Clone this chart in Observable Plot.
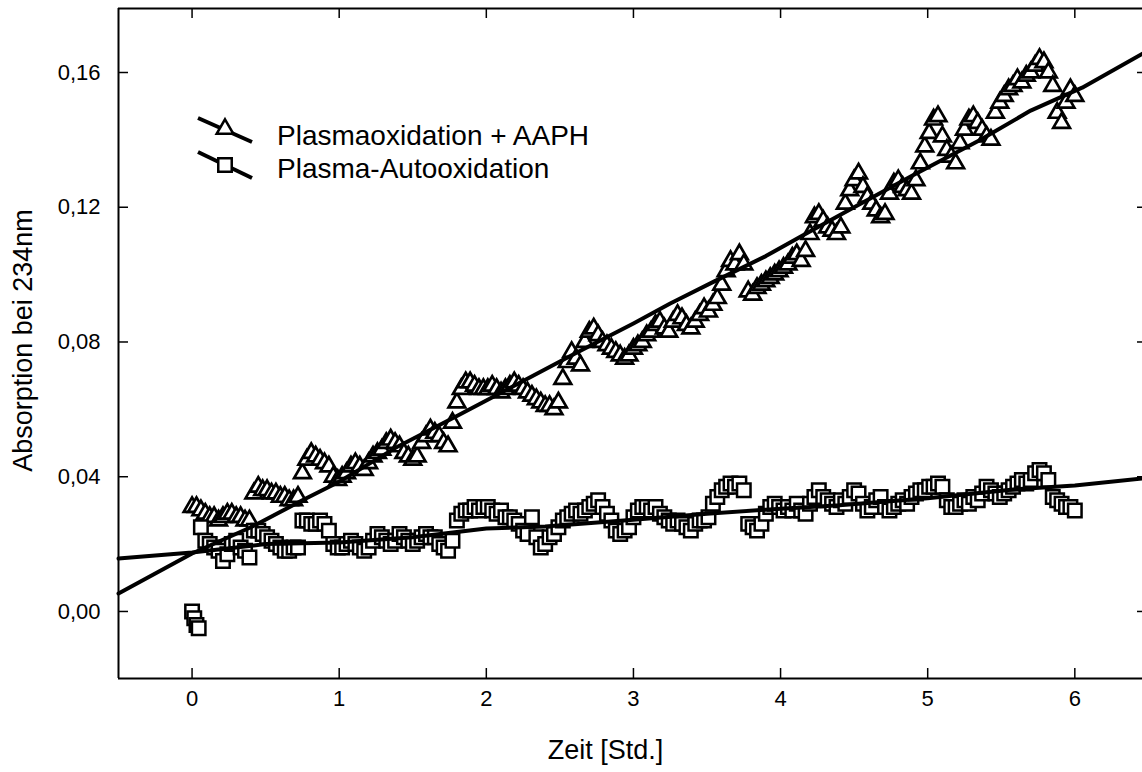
<!DOCTYPE html>
<html><head><meta charset="utf-8">
<script src="https://cdn.jsdelivr.net/npm/d3@7"></script>
<script src="https://cdn.jsdelivr.net/npm/@observablehq/plot@0.6"></script>
<style>
html,body{margin:0;padding:0;background:#fff;overflow:hidden}
#chart{width:1142px;height:772px}
</style></head><body><div id="chart"></div>
<script>
// ---- data ----
const serien = ["Plasmaoxidation + AAPH", "Plasma-Autooxidation"];
const xTitel = "Zeit [Std.]";
const yTitel = "Absorption bei 234nm";
const xTicks = [0, 1, 2, 3, 4, 5, 6];
const yTicks = [0, 0.04, 0.08, 0.12, 0.16];

const zeit = [
0,0.03,0.06,0.09,0.12,0.15,0.18,0.21,0.24,0.27,
0.3,0.33,0.36,0.39,0.42,0.45,0.48,0.51,0.54,0.57,
0.6,0.63,0.66,0.69,0.72,0.75,0.78,0.81,0.84,0.87,
0.9,0.93,0.96,0.99,1.02,1.05,1.08,1.11,1.14,1.17,
1.2,1.23,1.26,1.29,1.32,1.35,1.38,1.41,1.44,1.47,
1.5,1.53,1.56,1.59,1.62,1.65,1.68,1.71,1.74,1.77,
1.8,1.83,1.86,1.89,1.92,1.95,1.98,2.01,2.04,2.07,
2.1,2.13,2.16,2.19,2.22,2.25,2.28,2.31,2.34,2.37,
2.4,2.43,2.46,2.49,2.52,2.55,2.58,2.61,2.64,2.67,
2.7,2.73,2.76,2.79,2.82,2.85,2.88,2.91,2.94,2.97,
3,3.03,3.06,3.09,3.12,3.15,3.18,3.21,3.24,3.27,
3.3,3.33,3.36,3.39,3.42,3.45,3.48,3.51,3.54,3.57,
3.6,3.63,3.66,3.69,3.72,3.75,3.78,3.81,3.84,3.87,
3.9,3.93,3.96,3.99,4.02,4.05,4.08,4.11,4.14,4.17,
4.2,4.23,4.26,4.29,4.32,4.35,4.38,4.41,4.44,4.47,
4.5,4.53,4.56,4.59,4.62,4.65,4.68,4.71,4.74,4.77,
4.8,4.83,4.86,4.89,4.92,4.95,4.98,5.01,5.04,5.07,
5.1,5.13,5.16,5.19,5.22,5.25,5.28,5.31,5.34,5.37,
5.4,5.43,5.46,5.49,5.52,5.55,5.58,5.61,5.64,5.67,
5.7,5.73,5.76,5.79,5.82,5.85,5.88,5.91,5.94,5.97,
6];

const plasmaAAPH = [
0.031,0.031,0.030,0.029,0.028,0.028,0.027,0.028,0.029,0.029,
0.028,0.028,0.027,0.027,0.035,0.037,0.036,0.036,0.035,0.035,
0.034,0.034,0.033,0.033,0.034,0.041,0.045,0.047,0.046,0.045,
0.044,0.043,0.040,0.039,0.040,0.041,0.043,0.044,0.043,0.042,
0.044,0.046,0.047,0.048,0.050,0.051,0.050,0.049,0.047,0.046,
0.045,0.046,0.050,0.052,0.054,0.053,0.052,0.050,0.049,0.056,
0.062,0.066,0.068,0.068,0.067,0.066,0.066,0.066,0.067,0.066,
0.065,0.066,0.067,0.068,0.067,0.066,0.065,0.064,0.063,0.062,
0.061,0.061,0.060,0.062,0.069,0.074,0.077,0.075,0.073,0.080,
0.083,0.084,0.082,0.080,0.079,0.078,0.077,0.076,0.075,0.076,
0.078,0.079,0.080,0.082,0.083,0.085,0.086,0.084,0.083,0.086,
0.088,0.087,0.085,0.084,0.086,0.088,0.090,0.089,0.091,0.093,
0.097,0.101,0.104,0.103,0.106,0.103,0.095,0.094,0.096,0.097,
0.098,0.099,0.100,0.101,0.102,0.103,0.105,0.106,0.104,0.107,
0.112,0.117,0.118,0.116,0.114,0.113,0.112,0.114,0.121,0.125,
0.128,0.130,0.126,0.123,0.121,0.119,0.117,0.118,0.124,0.127,
0.128,0.126,0.125,0.124,0.128,0.133,0.138,0.142,0.146,0.147,
0.141,0.137,0.135,0.133,0.139,0.143,0.146,0.147,0.145,0.143,
0.141,0.140,0.148,0.151,0.153,0.155,0.156,0.158,0.157,0.159,
0.160,0.162,0.164,0.163,0.160,0.156,0.148,0.145,0.151,0.155,
0.153];

const plasmaAuto = [
0.000,-0.004,0.025,0.021,0.020,0.019,0.018,0.015,0.017,0.020,
0.021,0.019,0.018,0.016,0.024,0.024,0.023,0.022,0.021,0.020,
0.019,0.018,0.018,0.019,0.019,0.027,0.027,0.026,0.026,0.027,
0.026,0.024,0.020,0.019,0.019,0.020,0.021,0.020,0.019,0.018,
0.019,0.021,0.023,0.022,0.021,0.020,0.021,0.023,0.022,0.021,
0.020,0.021,0.022,0.023,0.022,0.022,0.020,0.019,0.018,0.021,
0.027,0.029,0.030,0.030,0.031,0.030,0.031,0.031,0.030,0.029,
0.030,0.028,0.028,0.027,0.026,0.024,0.023,0.028,0.022,0.019,
0.020,0.022,0.023,0.025,0.027,0.028,0.029,0.030,0.029,0.030,
0.031,0.032,0.033,0.031,0.029,0.027,0.024,0.023,0.024,0.025,
0.028,0.030,0.031,0.031,0.030,0.031,0.029,0.028,0.027,0.026,
0.027,0.026,0.025,0.024,0.026,0.027,0.027,0.028,0.032,0.034,
0.036,0.037,0.038,0.037,0.038,0.036,0.026,0.025,0.024,0.026,
0.029,0.031,0.032,0.031,0.030,0.031,0.030,0.032,0.030,0.029,
0.032,0.034,0.036,0.034,0.033,0.032,0.031,0.033,0.032,0.034,
0.036,0.035,0.032,0.030,0.031,0.033,0.034,0.031,0.030,0.031,
0.032,0.033,0.032,0.034,0.035,0.036,0.036,0.037,0.037,0.038,
0.037,0.033,0.031,0.031,0.032,0.033,0.032,0.034,0.033,0.035,
0.037,0.036,0.035,0.034,0.035,0.036,0.037,0.038,0.039,0.038,
0.039,0.041,0.042,0.041,0.039,0.034,0.033,0.032,0.031,0.031,
0.030];

// extra early readings of the autoxidation series
const startZeit = [0.015, 0.045];
const startAuto = [-0.002, -0.005];

// fitted curves
const fitZeitAAPH = [-0.5,0,0.4,0.75,1.0,1.4,1.8,2.0,2.6,3.0,3.25,3.55,3.9,4.15,4.5,4.9,5.35,5.7,6.05,6.46];
const fitAAPH     = [0.0053,0.0172,0.0250,0.0330,0.0385,0.0490,0.0580,0.0626,0.0765,0.0855,0.0914,0.0980,0.1055,0.1116,0.1200,0.1295,0.1398,0.1487,0.1555,0.1656];
const fitZeitAuto = [-0.5,0,0.5,1.0,1.5,2.0,2.4,3.0,3.5,4.0,4.4,5.0,5.6,6.0,6.46];
const fitAuto     = [0.0157,0.0175,0.0200,0.0205,0.0220,0.0246,0.0252,0.0272,0.0290,0.0305,0.0315,0.0336,0.0363,0.0374,0.0395];

const xDomain = [-0.5, 6.46];
const yDomain = [-0.0199, 0.179];

// ---- tables ----
const aaph = zeit.map((t, i) => ({t, v: plasmaAAPH[i]}));
const auto = zeit.map((t, i) => ({t, v: plasmaAuto[i]}))
  .concat(startZeit.map((t, i) => ({t, v: startAuto[i]})))
  .sort((a, b) => a.t - b.t);
const fitA = fitZeitAAPH.map((t, i) => ({t, v: fitAAPH[i]}));
const fitB = fitZeitAuto.map((t, i) => ({t, v: fitAuto[i]}));

const fmt = d => d.toFixed(2).replace(".", ",");
const W = 1142, H = 772, mL = 118, mR = 0, mT = 8, mB = 94;
const fw = W - mL - mR, fh = H - mT - mB;
const font = "'Liberation Sans', Arial, Helvetica, sans-serif";
const rTri = 6.2, rSq = 7.6;

const chart = Plot.plot({
  width: W, height: H,
  marginLeft: mL, marginRight: mR, marginTop: mT, marginBottom: mB,
  x: {domain: xDomain, axis: null},
  y: {domain: yDomain, axis: null},
  style: {fontFamily: font, background: "#fff", color: "#000"},
  marks: [
    Plot.dot(aaph, {x: "t", y: "v", symbol: "triangle", r: rTri, fill: "white", stroke: "black", strokeWidth: 2.7}),
    Plot.dot(auto, {x: "t", y: "v", symbol: "square", r: rSq, fill: "white", stroke: "black", strokeWidth: 2.5}),
    Plot.line(fitA, {x: "t", y: "v", stroke: "black", strokeWidth: 4}),
    Plot.line(fitB, {x: "t", y: "v", stroke: "black", strokeWidth: 4}),
    // frame (left, top, bottom)
    Plot.ruleX([xDomain[0]], {stroke: "black", strokeWidth: 2}),
    Plot.ruleY([yDomain[0]], {stroke: "black", strokeWidth: 2}),
    Plot.ruleY([yDomain[1]], {stroke: "black", strokeWidth: 2}),
    // inward ticks
    Plot.tickX(xTicks, {x: d => d, insetTop: fh - 10, stroke: "black", strokeWidth: 1.5}),
    Plot.tickX(xTicks, {x: d => d, insetBottom: fh - 10, stroke: "black", strokeWidth: 1.5}),
    Plot.tickY(yTicks, {y: d => d, insetRight: fw - 10, stroke: "black", strokeWidth: 1.5}),
    Plot.tickY(yTicks, {y: d => d, insetLeft: fw - 5, stroke: "black", strokeWidth: 1.5}),
    // tick labels
    Plot.text(xTicks, {x: d => d, frameAnchor: "bottom", dy: 27, text: d => String(d), fontSize: 22, fill: "black"}),
    Plot.text(yTicks, {y: d => d, frameAnchor: "left", dx: -18, textAnchor: "end", text: fmt, fontSize: 22, fill: "black"}),
    // axis titles
    Plot.text([xTitel], {frameAnchor: "bottom", dx: -25, dy: 80, textAnchor: "middle", text: d => d, fontSize: 27, fill: "black"}),
    Plot.text([yTitel], {frameAnchor: "left", dx: -95, dy: -3, rotate: -90, textAnchor: "middle", text: d => d, fontSize: 27, fill: "black"})
  ]
});
document.getElementById("chart").appendChild(chart);

// ---- legend ----
const svg = d3.select(chart);
const lg = svg.append("g").attr("font-family", font).attr("font-size", 28).attr("text-anchor", "start");
const symA = d3.symbol(d3.symbolTriangle, rTri * rTri * Math.PI)();
const symB = d3.symbol(d3.symbolSquare, rSq * rSq * Math.PI)();
const rows = [
  {name: serien[0], sym: symA, y1: 118, y2: 142, ym: 129, base: 145},
  {name: serien[1], sym: symB, y1: 152, y2: 178, ym: 165, base: 178}
];
rows.forEach(r => {
  lg.append("line").attr("x1", 198).attr("y1", r.y1).attr("x2", 252).attr("y2", r.y2)
    .attr("stroke", "black").attr("stroke-width", 4);
  lg.append("path").attr("d", r.sym).attr("transform", `translate(225,${r.ym})`)
    .attr("fill", "white").attr("stroke", "black").attr("stroke-width", 2.5);
  lg.append("text").attr("x", 277).attr("y", r.base).attr("text-anchor", "start").attr("fill", "black").text(r.name);
});
</script>
</body></html>
